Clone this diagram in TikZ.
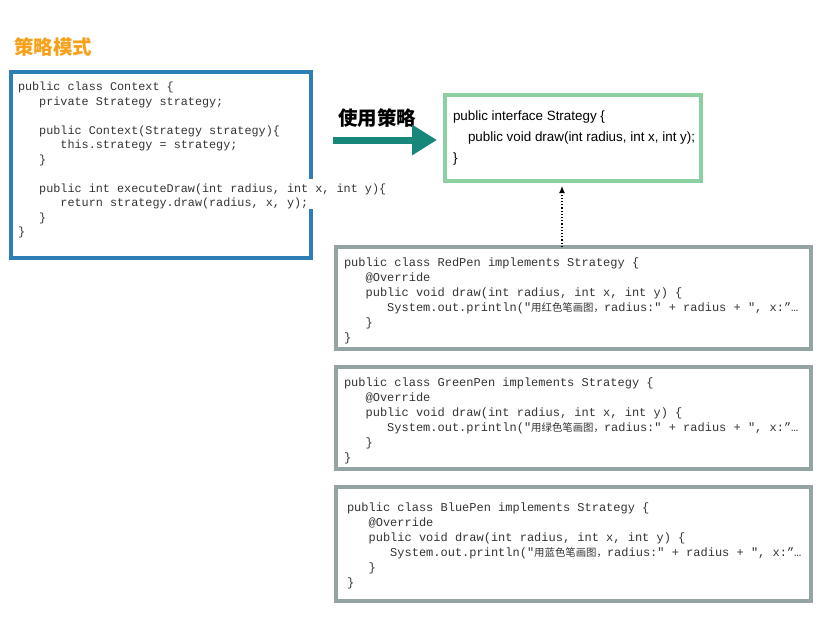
\documentclass[tikz,border=0pt]{standalone}
\usepackage{fontspec}
\setmainfont{Liberation Sans}
\setmonofont{Liberation Mono}
\newfontfamily\cjk{Noto Sans CJK SC}
\usetikzlibrary{arrows.meta}
\definecolor{titleorange}{HTML}{F7A11A}
\definecolor{ctxblue}{HTML}{2E7DB5}
\definecolor{strgreen}{HTML}{8DD0A0}
\definecolor{pengray}{HTML}{94A4A4}
\definecolor{arrowteal}{HTML}{16877A}
\definecolor{codegray}{HTML}{333333}
\newcommand\indA{\hbox{\ \ \ }}
\newcommand\zh[1]{{\cjk\fontsize{10.4}{12}\selectfont #1}}
\begin{document}
\begin{tikzpicture}[x=1pt,y=-1pt,
  boxframe/.style={draw, line width=4pt, anchor=north west, inner sep=0pt, outer sep=0pt},
  codetext/.style={anchor=north west, inner sep=0pt, outer sep=0pt, align=left, text=codegray,
    font=\ttfamily\fontsize{12}{15}\selectfont},
  sanstext/.style={anchor=north west, inner sep=0pt, outer sep=0pt, align=left, text=black,
    font=\fontsize{13.4}{21}\selectfont}]
\useasboundingbox (0,0) rectangle (830,634);

% title
\node[font=\cjk\bfseries\fontsize{19.5}{20}\selectfont, text=titleorange] (title) at (53,47) {策略模式};

% Context box
\node[boxframe, draw=ctxblue, minimum width=300pt, minimum height=186pt] (ctx) at (11,72) {};
\fill[white] (306,179) rectangle (317,209);
\node[codetext, font=\ttfamily\fontsize{11.8}{14.5}\selectfont] (ctxcode) at (18,82) {public class Context \{\\
\indA private Strategy strategy;\\
\mbox{}\\
\indA public Context(Strategy strategy)\{\\
\indA\indA this.strategy = strategy;\\
\indA\}\\
\mbox{}\\
\indA public int executeDraw(int radius, int x, int y)\{\\
\indA\indA return strategy.draw(radius, x, y);\\
\indA\}\\
\}};

% Strategy interface box
\node[boxframe, draw=strgreen, minimum width=256pt, minimum height=86pt] (strat) at (445,95) {};
\node[sanstext] (stratcode) at (453,111) {public interface Strategy \{\\
\hspace*{15pt}public void draw(int radius, int x, int y);\\
\}};

% "use strategy" arrow
\node[font=\cjk\bfseries\fontsize{19.5}{20}\selectfont] (uselbl) at (377,118) {使用策略};
\coordinate (ua) at (333,140);
\coordinate (ub) at (437,140);
\draw[arrowteal, line width=7pt, -{Triangle[length=25pt,width=29pt]}] (ua) -- (ub);

% pen boxes
\node[boxframe, draw=pengray, minimum width=475pt, minimum height=102pt] (red) at (336,247) {};
\node[codetext] (redcode) at (344,258) {public class RedPen implements Strategy \{\\
\indA @Override\\
\indA public void draw(int radius, int x, int y) \{\\
\indA\indA System.out.println("\zh{用红色笔画图，}radius:" + radius + ", x:”…\\
\indA\}\\
\}};

\node[boxframe, draw=pengray, minimum width=475pt, minimum height=102pt] (green) at (336,367) {};
\node[codetext] (greencode) at (344,378) {public class GreenPen implements Strategy \{\\
\indA @Override\\
\indA public void draw(int radius, int x, int y) \{\\
\indA\indA System.out.println("\zh{用绿色笔画图，}radius:" + radius + ", x:”…\\
\indA\}\\
\}};

\node[boxframe, draw=pengray, minimum width=475pt, minimum height=114pt] (blue) at (336,487) {};
\node[codetext] (bluecode) at (347,503) {public class BluePen implements Strategy \{\\
\indA @Override\\
\indA public void draw(int radius, int x, int y) \{\\
\indA\indA System.out.println("\zh{用蓝色笔画图，}radius:" + radius + ", x:”…\\
\indA\}\\
\}};

% implements arrow
\coordinate (dx) at (562,0);
\draw[dotted, line width=1.2pt, -{Latex[length=7pt,width=6pt]}] (red.north -| dx) -- ([yshift=-5pt]strat.south -| dx);
\end{tikzpicture}
\end{document}
